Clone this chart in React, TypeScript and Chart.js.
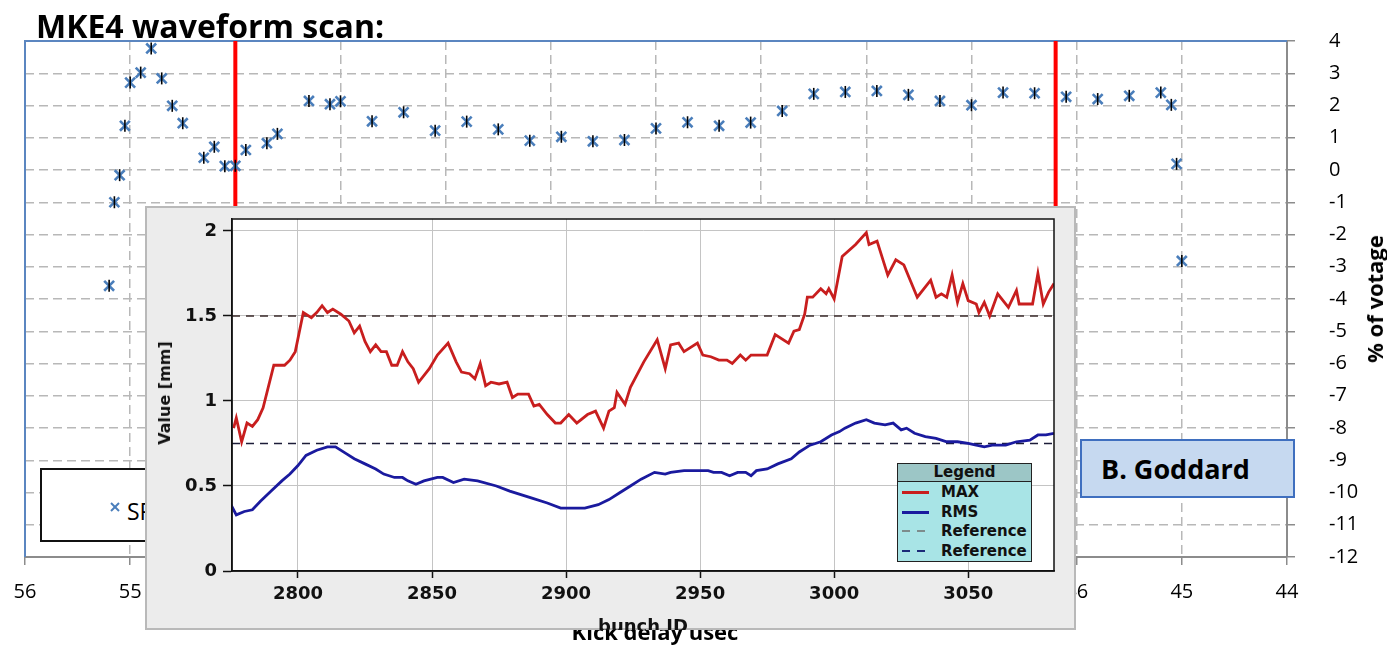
import React, { useEffect, useRef } from "react";
import { Chart, registerables } from "chart.js";

Chart.register(...registerables);

// ---------- Outer (Excel) chart data ----------
const delayUs = [55.2, 55.15, 55.1, 55.05, 55.0, 54.9, 54.8, 54.7, 54.6, 54.5, 54.3, 54.2, 54.1, 54.0, 53.9, 53.7, 53.6, 53.3, 53.1, 53.0, 52.7, 52.4, 52.1, 51.8, 51.5, 51.2, 50.9, 50.6, 50.3, 50.0, 49.7, 49.4, 49.1, 48.8, 48.5, 48.2, 47.9, 47.6, 47.3, 47.0, 46.7, 46.4, 46.1, 45.8, 45.5, 45.2, 45.1, 45.05, 45.0];
const voltagePct = [-3.59, -1.0, -0.16, 1.37, 2.71, 3.02, 3.77, 2.84, 1.99, 1.45, 0.38, 0.72, 0.12, 0.13, 0.62, 0.83, 1.12, 2.14, 2.04, 2.13, 1.51, 1.79, 1.22, 1.5, 1.26, 0.91, 1.03, 0.89, 0.93, 1.29, 1.48, 1.37, 1.47, 1.83, 2.36, 2.42, 2.45, 2.33, 2.14, 2.01, 2.4, 2.38, 2.27, 2.2, 2.3, 2.4, 2.02, 0.19, -2.82];
const cutDelayUs = [54.0, 46.2];
const delayMin = 44;
const delayMax = 56;
const voltMin = -12;
const voltMax = 4;

// ---------- Inset chart data ----------
const maxBunch = [2776, 2777, 2779, 2781, 2783, 2785, 2787, 2791, 2795, 2797, 2799, 2802, 2805, 2807, 2809, 2811, 2813, 2816, 2819, 2821, 2823, 2825, 2827, 2829, 2831, 2833, 2835, 2837, 2839, 2841, 2843, 2845, 2849, 2852, 2856, 2859, 2861, 2864, 2866, 2868, 2870, 2872, 2875, 2878, 2880, 2882, 2886, 2888, 2890, 2893, 2896, 2898, 2901, 2904, 2908, 2911, 2914, 2916, 2918, 2919, 2922, 2924, 2929, 2934, 2937, 2939, 2942, 2944, 2949, 2951, 2954, 2957, 2960, 2962, 2965, 2967, 2969, 2975, 2978, 2983, 2985, 2987, 2989, 2990, 2992, 2995, 2997, 2998, 3000, 3003, 3008, 3012, 3013, 3016, 3020, 3023, 3026, 3031, 3036, 3038, 3040, 3042, 3044, 3046, 3048, 3050, 3053, 3054, 3056, 3058, 3061, 3065, 3068, 3069, 3074, 3076, 3078, 3080, 3082];
const maxMm = [0.84, 0.9, 0.76, 0.87, 0.85, 0.89, 0.96, 1.21, 1.21, 1.24, 1.29, 1.52, 1.49, 1.52, 1.56, 1.52, 1.54, 1.51, 1.47, 1.4, 1.44, 1.35, 1.29, 1.33, 1.29, 1.29, 1.21, 1.21, 1.29, 1.23, 1.19, 1.11, 1.19, 1.27, 1.34, 1.23, 1.17, 1.16, 1.13, 1.22, 1.09, 1.11, 1.1, 1.11, 1.02, 1.04, 1.04, 0.97, 0.98, 0.92, 0.87, 0.87, 0.92, 0.87, 0.92, 0.94, 0.84, 0.94, 0.96, 1.05, 0.98, 1.08, 1.23, 1.36, 1.19, 1.33, 1.34, 1.29, 1.34, 1.27, 1.26, 1.24, 1.24, 1.22, 1.27, 1.24, 1.27, 1.27, 1.39, 1.34, 1.41, 1.42, 1.51, 1.61, 1.61, 1.66, 1.63, 1.66, 1.6, 1.85, 1.92, 1.99, 1.92, 1.94, 1.74, 1.83, 1.8, 1.61, 1.71, 1.61, 1.63, 1.61, 1.74, 1.58, 1.69, 1.59, 1.57, 1.52, 1.58, 1.5, 1.63, 1.55, 1.65, 1.57, 1.57, 1.75, 1.57, 1.64, 1.69];
const rmsBunch = [2775, 2777, 2780, 2783, 2786, 2790, 2794, 2797, 2800, 2803, 2807, 2811, 2814, 2818, 2821, 2825, 2829, 2832, 2836, 2839, 2841, 2844, 2847, 2852, 2854, 2858, 2862, 2867, 2874, 2879, 2887, 2893, 2898, 2903, 2907, 2912, 2916, 2920, 2924, 2928, 2933, 2937, 2939, 2944, 2949, 2953, 2955, 2958, 2961, 2964, 2967, 2969, 2971, 2975, 2979, 2984, 2987, 2991, 2995, 2999, 3002, 3004, 3008, 3012, 3015, 3019, 3022, 3025, 3027, 3030, 3034, 3038, 3042, 3046, 3050, 3053, 3056, 3059, 3064, 3068, 3073, 3076, 3079, 3082];
const rmsMm = [0.39, 0.33, 0.35, 0.36, 0.41, 0.47, 0.53, 0.57, 0.62, 0.68, 0.71, 0.73, 0.73, 0.69, 0.66, 0.63, 0.6, 0.57, 0.55, 0.55, 0.53, 0.51, 0.53, 0.55, 0.55, 0.52, 0.54, 0.53, 0.5, 0.47, 0.43, 0.4, 0.37, 0.37, 0.37, 0.39, 0.42, 0.46, 0.5, 0.54, 0.58, 0.57, 0.58, 0.59, 0.59, 0.59, 0.58, 0.58, 0.56, 0.58, 0.58, 0.56, 0.59, 0.6, 0.63, 0.66, 0.7, 0.74, 0.76, 0.8, 0.82, 0.84, 0.87, 0.89, 0.87, 0.86, 0.87, 0.83, 0.84, 0.81, 0.79, 0.78, 0.76, 0.76, 0.75, 0.74, 0.73, 0.74, 0.74, 0.76, 0.77, 0.8, 0.8, 0.81];
const referenceMm = [1.5, 0.75];
const bunchMin = 2775.4;
const bunchMax = 3082;
const mmMin = 0;
const mmMax = 2.07;

const insetLegendLabels = ["MAX", "RMS", "Reference", "Reference"];

const EXCEL_FONT = "'Open Sans', sans-serif";
const JAVA_FONT = "'DejaVu Sans', sans-serif";

const outerFrame = {
  id: "outerFrame",
  beforeDatasetsDraw(chart: any) {
    const { ctx, chartArea } = chart;
    ctx.save();
    ctx.strokeStyle = "#5b86c0";
    ctx.lineWidth = 2;
    ctx.beginPath();
    ctx.moveTo(chartArea.left, chartArea.bottom);
    ctx.lineTo(chartArea.left, chartArea.top);
    ctx.lineTo(chartArea.right, chartArea.top);
    ctx.stroke();
    ctx.restore();
  },
};

const insetFrame = {
  id: "insetFrame",
  beforeDraw(chart: any) {
    const { ctx, chartArea } = chart;
    ctx.save();
    ctx.fillStyle = "#ffffff";
    ctx.fillRect(chartArea.left, chartArea.top, chartArea.right - chartArea.left, chartArea.bottom - chartArea.top);
    ctx.restore();
  },
  afterDraw(chart: any) {
    const { ctx, chartArea } = chart;
    ctx.save();
    ctx.strokeStyle = "#111111";
    ctx.lineWidth = 1.5;
    ctx.strokeRect(chartArea.left, chartArea.top, chartArea.right - chartArea.left, chartArea.bottom - chartArea.top);
    ctx.restore();
  },
};

export default function App() {
  const outerRef = useRef<HTMLCanvasElement>(null);
  const insetRef = useRef<HTMLCanvasElement>(null);

  useEffect(() => {
    const pts = delayUs.map((x, i) => ({ x, y: voltagePct[i] }));
    const outer = new Chart(outerRef.current!, {
      type: "scatter",
      data: {
        datasets: [
          {
            label: "tick",
            data: pts,
            pointStyle: "line",
            pointRotation: 90,
            pointRadius: 6,
            pointBorderColor: "#000000",
            pointBorderWidth: 1.6,
            borderColor: "#000000",
            order: 0,
          } as any,
          {
            label: "SPS",
            data: pts,
            pointStyle: "crossRot",
            pointRadius: 7,
            pointBorderColor: "#4a7ebb",
            pointBorderWidth: 2.6,
            borderColor: "#4a7ebb",
            order: 1,
          } as any,
          ...cutDelayUs.map((x) => ({
            type: "line",
            data: [
              { x, y: voltMin },
              { x, y: voltMax },
            ],
            borderColor: "#ff0000",
            borderWidth: 4,
            pointRadius: 0,
            showLine: true,
            order: 2,
          })) as any,
        ],
      },
      options: {
        responsive: false,
        animation: false,
        layout: { padding: { left: 25, top: 41, right: 0, bottom: 0 } },
        plugins: { legend: { display: false }, tooltip: { enabled: false } },
        scales: {
          x: {
            type: "linear",
            position: "bottom",
            reverse: true,
            min: delayMin,
            max: delayMax,
            ticks: { stepSize: 1, color: "#000", padding: 15, font: { family: EXCEL_FONT, size: 20 } },
            grid: { color: "#b8b8b8", lineWidth: 1.5, tickLength: 8, tickColor: "#8c8c8c", tickWidth: 1.5, tickBorderDash: [] },
            border: { color: "#8c8c8c", width: 2, dash: [9, 5] },
            afterFit: (s: any) => {
              s.height = 88;
              s.paddingLeft = 0;
              s.paddingRight = 0;
            },
          },
          y: {
            type: "linear",
            position: "right",
            min: voltMin,
            max: voltMax,
            ticks: { stepSize: 1, color: "#000", padding: 34, font: { family: EXCEL_FONT, size: 20 } },
            grid: { color: "#b8b8b8", lineWidth: 1.5, tickLength: 8, tickColor: "#8c8c8c", tickWidth: 1.5, tickBorderDash: [] },
            border: { color: "#8c8c8c", width: 2, dash: [9, 5] },
            afterFit: (s: any) => {
              s.width = 100;
              s.paddingTop = 0;
              s.paddingBottom = 0;
            },
          },
        },
      } as any,
      plugins: [outerFrame],
    });

    const refColors = ["#3a2a2a", "#1c1c38"];
    const inset = new Chart(insetRef.current!, {
      type: "scatter",
      data: {
        datasets: [
          {
            label: "MAX",
            data: maxBunch.map((x, i) => ({ x, y: maxMm[i] })),
            showLine: true,
            borderColor: "#c81e1e",
            borderWidth: 2.8,
            pointRadius: 0,
          },
          {
            label: "RMS",
            data: rmsBunch.map((x, i) => ({ x, y: rmsMm[i] })),
            showLine: true,
            borderColor: "#1a1a9e",
            borderWidth: 2.8,
            pointRadius: 0,
          },
          ...referenceMm.map((y, i) => ({
            label: "Reference",
            data: [
              { x: bunchMin, y },
              { x: bunchMax, y },
            ],
            showLine: true,
            borderColor: refColors[i],
            borderWidth: 1.5,
            borderDash: [8, 6],
            pointRadius: 0,
          })),
        ],
      },
      options: {
        responsive: false,
        animation: false,
        layout: { padding: { left: 0, top: 13, right: 22, bottom: 0 } },
        plugins: { legend: { display: false }, tooltip: { enabled: false } },
        scales: {
          x: {
            type: "linear",
            min: bunchMin,
            max: bunchMax,
            ticks: {
              stepSize: 50,
              includeBounds: false,
              color: "#111",
              padding: 6,
              font: { family: JAVA_FONT, size: 18, weight: "bold" },
              callback: (v: any) => String(v),
            },
            grid: { color: "#c4c4c4", lineWidth: 1, tickLength: 7, tickColor: "#111", tickWidth: 1.5 },
            border: { color: "#111", width: 1.5 },
            afterFit: (s: any) => {
              s.height = 59;
              s.paddingLeft = 0;
              s.paddingRight = 0;
            },
          },
          y: {
            type: "linear",
            min: mmMin,
            max: mmMax,
            ticks: {
              stepSize: 0.5,
              includeBounds: false,
              color: "#111",
              padding: 6,
              font: { family: JAVA_FONT, size: 18, weight: "bold" },
              callback: (v: any) => String(Math.round(v * 100) / 100),
            },
            grid: { color: "#c4c4c4", lineWidth: 1, tickLength: 9, tickColor: "#111", tickWidth: 1.5 },
            border: { color: "#111", width: 1.5 },
            afterFit: (s: any) => {
              s.width = 87;
              s.paddingTop = 0;
              s.paddingBottom = 0;
            },
          },
        },
      } as any,
      plugins: [insetFrame],
    });

    return () => {
      outer.destroy();
      inset.destroy();
    };
  }, []);

  const abs = (o: React.CSSProperties): React.CSSProperties => ({ position: "absolute", ...o });
  const legendSamples = [
    { kind: "solid", color: "#c81e1e" },
    { kind: "solid", color: "#1a1a9e" },
    { kind: "dash", color: "#7d8c8c" },
    { kind: "dash", color: "#1c2a78" },
  ];

  return (
    <div style={abs({ left: 0, top: 0, width: 1387, height: 645, overflow: "hidden", background: "#ffffff" })}>
      <canvas ref={outerRef} width={1387} height={645} style={abs({ left: 0, top: 0, width: 1387, height: 645 })} />

      {/* Title */}
      <div style={abs({ left: 36, top: 10, fontFamily: EXCEL_FONT, fontWeight: 700, fontSize: 32, lineHeight: "32px", whiteSpace: "nowrap", color: "#000" })}>
        MKE4 waveform scan:
      </div>

      {/* Y axis title */}
      <div style={abs({ left: 1374, top: 299, transform: "translate(-50%, -50%) rotate(-90deg)", fontFamily: EXCEL_FONT, fontWeight: 700, fontSize: 22, lineHeight: "22px", whiteSpace: "nowrap", color: "#000" })}>
        % of votage
      </div>

      {/* X axis title (partly hidden by the inset) */}
      <div style={abs({ left: 455, width: 400, top: 620, textAlign: "center", fontFamily: EXCEL_FONT, fontWeight: 700, fontSize: 22, lineHeight: "22px", whiteSpace: "nowrap", color: "#000" })}>
        Kick delay usec
      </div>

      {/* Excel legend box */}
      <div style={abs({ left: 40, top: 468, width: 300, height: 74, boxSizing: "border-box", border: "2px solid #111", background: "#fff" })}>
        <svg width="12" height="12" style={abs({ left: 67, top: 31 })}>
          <line x1="2" y1="2" x2="10" y2="10" stroke="#4a7ebb" strokeWidth="2" />
          <line x1="10" y1="2" x2="2" y2="10" stroke="#4a7ebb" strokeWidth="2" />
        </svg>
        <div style={abs({ left: 85, top: 30, fontFamily: EXCEL_FONT, fontSize: 23, lineHeight: "23px", whiteSpace: "nowrap", color: "#000" })}>
          SPS kick
        </div>
      </div>

      {/* Author box */}
      <div style={abs({ left: 1080, top: 439, width: 215, height: 59, boxSizing: "border-box", border: "2px solid #3f6fbf", background: "#c6d9f0" })}>
        <div style={abs({ left: 19, top: 14, fontFamily: EXCEL_FONT, fontWeight: 700, fontSize: 27, lineHeight: "27px", whiteSpace: "nowrap", color: "#000" })}>
          B. Goddard
        </div>
      </div>

      {/* Inset panel */}
      <div style={abs({ left: 145, top: 206, width: 931, height: 424, overflow: "hidden", background: "#ececec", boxShadow: "inset 0 0 0 2px #b9b9b9" })}>
        <canvas ref={insetRef} width={931} height={424} style={abs({ left: 0, top: 0, width: 931, height: 424 })} />
        <div style={abs({ left: 20, top: 187, transform: "translate(-50%, -50%) rotate(-90deg)", fontFamily: JAVA_FONT, fontWeight: 700, fontSize: 16, lineHeight: "16px", whiteSpace: "nowrap", color: "#111" })}>
          Value [mm]
        </div>
        <div style={abs({ left: 348, width: 300, top: 411, textAlign: "center", fontFamily: JAVA_FONT, fontWeight: 700, fontSize: 18, lineHeight: "18px", whiteSpace: "nowrap", color: "#111" })}>
          bunch ID
        </div>

        {/* Inset legend */}
        <div style={abs({ left: 752, top: 257, width: 135, height: 99, boxSizing: "border-box", border: "1.5px solid #222", background: "#a8e4e6" })}>
          <div style={{ height: 17, background: "#9cc6c6", borderBottom: "1.5px solid #222", textAlign: "center", fontFamily: JAVA_FONT, fontWeight: 700, fontSize: 15, lineHeight: "17px", color: "#111" }}>
            Legend
          </div>
          {insetLegendLabels.map((lab, i) => (
            <div key={i} style={abs({ left: 0, top: 19 + i * 19.6, width: 132, height: 19 })}>
              <div
                style={abs({
                  left: 4,
                  top: 8,
                  width: 27,
                  height: legendSamples[i].kind === "solid" ? 3 : 2,
                  background:
                    legendSamples[i].kind === "solid"
                      ? legendSamples[i].color
                      : `repeating-linear-gradient(90deg, ${legendSamples[i].color} 0 8px, transparent 8px 15px)`,
                })}
              />
              <div style={abs({ left: 43, top: 1, fontFamily: JAVA_FONT, fontWeight: 700, fontSize: 15, lineHeight: "17px", whiteSpace: "nowrap", color: "#111" })}>
                {lab}
              </div>
            </div>
          ))}
        </div>
      </div>
    </div>
  );
}
